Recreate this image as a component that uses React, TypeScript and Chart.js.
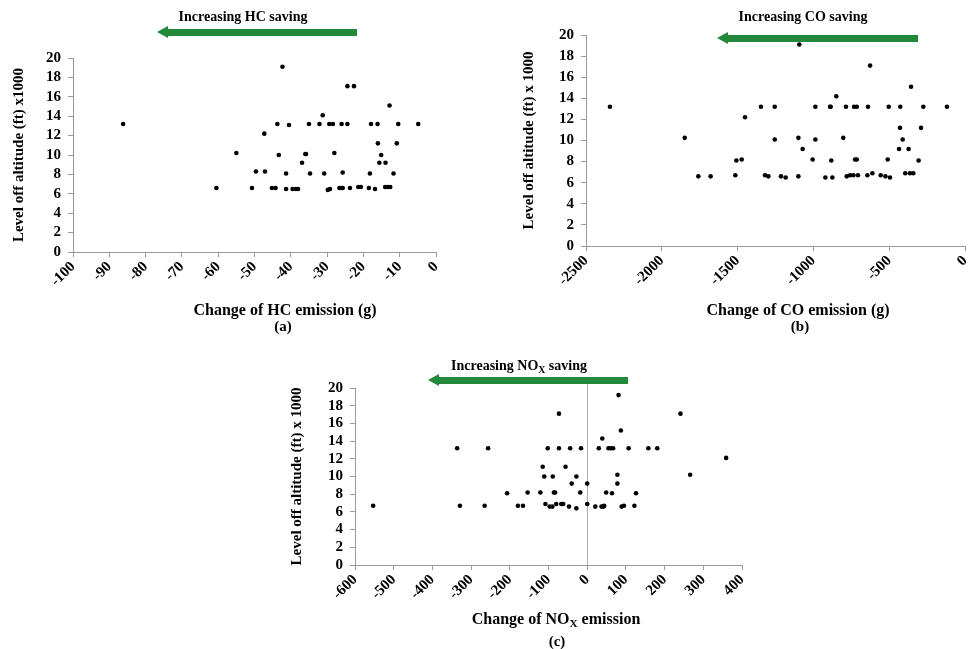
import React, { useEffect, useRef } from "react";
import { Chart, registerables } from "chart.js";
Chart.register(...registerables);

const FONT = '"Liberation Serif", "Times New Roman", serif';
const GREEN = "#22893b";

// Panel (a): change of HC emission (g) vs level-off altitude (ft x1000)
const hcChange = [
  -86.2, -60.5, -55, -50.7, -49.6, -47.1, -47.3, -45.2, -44.2, -43.7, -43.3, -42.3,
  -41.3, -41.3, -40.5, -39.5, -38.6, -38, -36.9, -36, -35.8, -35, -34.7, -32.1,
  -31.2, -30.8, -29.8, -29.2, -29.4, -28.4, -28, -26.6, -26.1, -25.7, -26, -25.7,
  -24.4, -24.4, -22.6, -23.7, -21.4, -20.7, -18.5, -18.2, -17.9, -16.8, -16.1, -16,
  -15.1, -15.6, -13.9, -12.8, -14, -13.3, -12.6, -11.7, -10.8, -10.4, -4.9,
];
const hcAltitude = [
  13.2, 6.6, 10.2, 6.6, 8.3, 8.3, 12.2, 6.6, 6.6, 13.2, 10.0, 19.1,
  8.1, 6.5, 13.1, 6.5, 6.5, 6.5, 9.2, 10.1, 10.1, 13.2, 8.1, 13.2,
  14.1, 8.1, 6.4, 6.5, 13.2, 13.2, 10.2, 6.6, 6.6, 6.6, 13.2, 8.2,
  13.2, 17.1, 17.1, 6.6, 6.7, 6.7, 6.6, 8.1, 13.2, 6.5, 13.2, 11.2,
  10.0, 9.2, 9.2, 15.1, 6.7, 6.7, 6.7, 8.1, 11.2, 13.2, 13.2,
];

// Panel (b): change of CO emission (g)
const coChange = [
  -2342, -1849, -1759, -1678, -1515, -1508, -1473, -1451, -1346, -1319, -1297, -1255,
  -1255, -1214, -1183, -1099, -1093, -1099, -1071, -1005, -987, -987, -921, -875,
  -890, -886, -882, -849, -803, -785, -780, -758, -736, -706, -732, -714,
  -725, -714, -644, -611, -640, -626, -556, -525, -495, -510, -503, -435,
  -429, -427, -411, -394, -363, -341, -372, -356, -306, -290, -275, -119,
];
const coAltitude = [
  13.2, 10.25, 6.6, 6.6, 6.7, 8.1, 8.2, 12.2, 13.2, 6.7, 6.6, 13.2,
  10.1, 6.6, 6.5, 6.6, 19.1, 10.25, 9.2, 8.2, 13.2, 10.1, 6.5, 6.5,
  13.2, 13.2, 8.1, 14.2, 10.25, 13.2, 6.6, 6.7, 6.7, 6.7, 13.2, 13.2,
  8.2, 8.2, 6.7, 6.9, 13.2, 17.1, 6.7, 6.6, 6.5, 8.2, 13.2, 9.2,
  11.2, 13.2, 10.1, 6.9, 6.9, 6.9, 9.2, 15.1, 8.1, 11.2, 13.2, 13.2,
];

// Panel (c): change of NOx emission
const noxChange = [
  -553, -336, -329, -265, -256, -207, -179, -166, -154, -121, -115, -111,
  -108, -102, -97, -90, -89, -86, -83, -80, -73, -73, -67, -62,
  -56, -47, -44, -40, -28, -28, -18, -16, 0, 0, 21, 30,
  37, 44, 42, 39, 49, 55, 61, 67, 64, 78, 78, 81,
  87, 89, 95, 107, 122, 126, 158, 181, 241, 266, 359,
];
const noxAltitude = [
  6.7, 13.2, 6.7, 6.7, 13.2, 8.1, 6.7, 6.7, 8.2, 8.2, 11.1, 10.0,
  6.9, 13.2, 6.6, 6.6, 10.0, 8.2, 8.2, 6.9, 17.1, 13.2, 6.9, 6.9,
  11.1, 6.6, 13.2, 9.2, 10.0, 6.4, 8.2, 13.2, 9.2, 6.9, 6.6, 13.2,
  6.6, 6.7, 6.6, 14.3, 8.2, 13.2, 13.2, 13.2, 8.1, 10.2, 9.2, 19.2,
  15.2, 6.6, 6.7, 13.2, 6.7, 8.1, 13.2, 13.2, 17.1, 10.2, 12.1,
];

type PanelProps = {
  left: number;
  top: number;
  width: number;
  height: number;
  pad: { top: number; right: number; bottom: number; left: number };
  yWidth: number;
  xHeight: number;
  yTitle: string;
  yTitlePad: number;
  xs: number[];
  ys: number[];
  xMin: number;
  xMax: number;
  xStep: number;
  zeroLine?: boolean;
};

const zeroLinePlugin = {
  id: "zeroLineExt",
  afterDraw(chart: any, _args: any, opts: any) {
    if (!opts || !opts.enabled) return;
    const x = chart.scales.x.getPixelForValue(0);
    const { top } = chart.chartArea;
    const ctx = chart.ctx;
    ctx.save();
    ctx.strokeStyle = "#b0b0b0";
    ctx.lineWidth = 1;
    ctx.beginPath();
    ctx.moveTo(Math.round(x) + 0.5, top - 8);
    ctx.lineTo(Math.round(x) + 0.5, top);
    ctx.stroke();
    ctx.restore();
  },
};

function Panel(p: PanelProps) {
  const ref = useRef<HTMLCanvasElement>(null);
  useEffect(() => {
    const tickFont = { family: FONT, size: 15, weight: "bold" as const };
    const chart = new Chart(ref.current!, {
      type: "scatter",
      data: {
        datasets: [
          {
            data: p.xs.map((x, i) => ({ x, y: p.ys[i] })),
            pointRadius: 2.3,
            pointBackgroundColor: "#000",
            pointBorderWidth: 0,
            showLine: false,
          },
        ],
      },
      plugins: [zeroLinePlugin],
      options: {
        animation: false,
        responsive: false,
        devicePixelRatio: 1,
        layout: { padding: p.pad },
        plugins: {
          legend: { display: false },
          tooltip: { enabled: false },
          zeroLineExt: { enabled: !!p.zeroLine },
        } as any,
        scales: {
          x: {
            type: "linear",
            min: p.xMin,
            max: p.xMax,
            afterFit: (s: any) => {
              s.height = p.xHeight;
            },
            ticks: {
              stepSize: p.xStep,
              autoSkip: false,
              minRotation: 45,
              maxRotation: 45,
              color: "#000",
              font: tickFont,
              padding: 1,
              callback: (v: any) => String(v),
            },
            grid: {
              drawOnChartArea: !!p.zeroLine,
              color: (ctx: any) =>
                p.zeroLine && ctx.tick && ctx.tick.value === 0 ? "#b0b0b0" : "rgba(0,0,0,0)",
              tickColor: "#9a9a9a",
              tickLength: 5,
            },
            border: { color: "#9a9a9a", width: 1 },
          },
          y: {
            min: 0,
            max: 20,
            afterFit: (s: any) => {
              s.width = p.yWidth;
            },
            ticks: {
              stepSize: 2,
              autoSkip: false,
              color: "#000",
              font: tickFont,
              padding: 7,
            },
            title: {
              display: true,
              text: p.yTitle,
              color: "#000",
              font: { family: FONT, size: 15, weight: "bold" },
              padding: { top: p.yTitlePad, bottom: 0 },
            },
            grid: {
              drawOnChartArea: false,
              tickColor: "#9a9a9a",
              tickLength: 5,
            },
            border: { color: "#9a9a9a", width: 1 },
          },
        },
      },
    });
    return () => chart.destroy();
  }, []);
  return (
    <canvas
      ref={ref}
      width={p.width}
      height={p.height}
      style={{ position: "absolute", left: p.left, top: p.top, width: p.width, height: p.height }}
    />
  );
}

function Label({ x, y, size, children }: { x: number; y: number; size: number; children: any }) {
  return (
    <div
      style={{
        position: "absolute",
        left: x,
        top: y,
        transform: "translate(-50%, -50%)",
        whiteSpace: "nowrap",
        fontFamily: FONT,
        fontWeight: "bold",
        fontSize: size,
        color: "#000",
        lineHeight: 1,
      }}
    >
      {children}
    </div>
  );
}

function Arrow({ x1, x2, cy }: { x1: number; x2: number; cy: number }) {
  const head = 11;
  return (
    <>
      <div
        style={{
          position: "absolute",
          left: x1,
          top: cy - 6,
          width: 0,
          height: 0,
          borderTop: "6px solid transparent",
          borderBottom: "6px solid transparent",
          borderRight: `${head}px solid ${GREEN}`,
        }}
      />
      <div
        style={{
          position: "absolute",
          left: x1 + head,
          top: cy - 3.5,
          width: x2 - x1 - head,
          height: 7,
          background: GREEN,
        }}
      />
    </>
  );
}

const Sub = ({ children }: { children: any }) => (
  <span style={{ fontSize: "0.7em", verticalAlign: "-0.25em" }}>{children}</span>
);

export default function App() {
  return (
    <div
      style={{
        position: "fixed",
        left: 0,
        top: 0,
        width: 968,
        height: 649,
        background: "#fff",
        overflow: "hidden",
      }}
    >
      <Panel
        left={0}
        top={0}
        width={450}
        height={312}
        pad={{ top: 58, right: 14, bottom: 0, left: 0 }}
        yWidth={73}
        xHeight={60}
        yTitle="Level off altitude (ft) x1000"
        yTitlePad={10}
        xs={hcChange}
        ys={hcAltitude}
        xMin={-100}
        xMax={0}
        xStep={10}
      />
      <Panel
        left={510}
        top={0}
        width={469}
        height={306}
        pad={{ top: 35, right: 14, bottom: 0, left: 0 }}
        yWidth={76}
        xHeight={60}
        yTitle="Level off altitude (ft) x 1000"
        yTitlePad={10}
        xs={coChange}
        ys={coAltitude}
        xMin={-2500}
        xMax={0}
        xStep={500}
      />
      <Panel
        left={270}
        top={360}
        width={486}
        height={265}
        pad={{ top: 28, right: 14, bottom: 0, left: 0 }}
        yWidth={85}
        xHeight={60}
        yTitle="Level off altitude (ft) x 1000"
        yTitlePad={18}
        xs={noxChange}
        ys={noxAltitude}
        xMin={-600}
        xMax={400}
        xStep={100}
        zeroLine
      />

      <Label x={243} y={17} size={14}>Increasing HC saving</Label>
      <Arrow x1={157} x2={357} cy={32} />
      <Label x={803} y={17} size={14}>Increasing CO saving</Label>
      <Arrow x1={717} x2={918} cy={38} />
      <Label x={519} y={367} size={14}>
        Increasing NO<Sub>X</Sub> saving
      </Label>
      <Arrow x1={428} x2={628} cy={380} />

      <Label x={285} y={310} size={16}>Change of HC emission (g)</Label>
      <Label x={283} y={326} size={15}>(a)</Label>
      <Label x={798} y={310} size={16}>Change of CO emission (g)</Label>
      <Label x={800} y={326} size={15}>(b)</Label>
      <Label x={556} y={620} size={16}>
        Change of NO<Sub>X</Sub> emission
      </Label>
      <Label x={557} y={641} size={15}>(c)</Label>
    </div>
  );
}
